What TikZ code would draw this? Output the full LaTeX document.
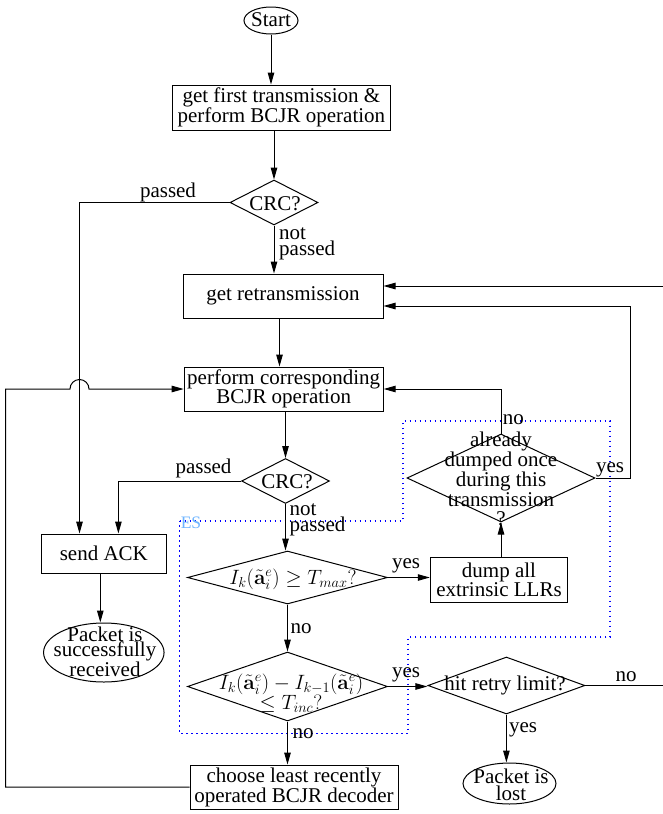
\documentclass[tikz,border=0pt]{standalone}
\usepackage[no-math]{fontspec}
\setmainfont{Liberation Serif}
\usetikzlibrary{arrows.meta,shapes.geometric,calc}
\definecolor{esblue}{RGB}{110,180,255}
\begin{document}
\begin{tikzpicture}[x=1pt,y=-1pt,
  every node/.style={font=\fontsize{21}{19}\selectfont},
  base/.style={draw, line width=1pt, inner sep=0pt},
  boxnode/.style={base, rectangle, align=center},
  dianode/.style={base, diamond},
  ellnode/.style={base, ellipse},
  txt/.style={inner sep=0pt, align=center},
  lbl/.style={inner sep=0pt},
  conn/.style={line width=1pt, -{Triangle[length=12pt,width=6.5pt]}},
  esline/.style={blue, line width=1.4pt, dash pattern=on 1.4pt off 3.6pt}]
\useasboundingbox (0,0) rectangle (663,814);
\clip (0,0) rectangle (663,814);

% ES region
\draw[esline] (179.7,521) -- (403,521) -- (403,421) -- (610,421) -- (610,637)
  -- (408,637) -- (408,733.5) -- (179.7,733.5) -- cycle;
\node[lbl, text=esblue, font=\fontsize{17.5}{17}\selectfont] (es) at (191,523) {ES};

% shapes
\node[ellnode, minimum width=54, minimum height=27] (start) at (271,20.5) {};
\node[txt] (startT) at (271,19.5) {Start};
\node[boxnode, minimum width=218, minimum height=45] (box1) at (281.4,107.5)
  {get first transmission \&\\perform BCJR operation};
\node[dianode, minimum width=88, minimum height=45] (crc1) at (274,202.5) {};
\node[txt] (crc1T) at (275,204) {CRC?};
\node[boxnode, minimum width=200, minimum height=44] (box2) at (283,296) {get retransmission};
\node[boxnode, minimum width=199, minimum height=44, font=\fontsize{21}{18}\selectfont] (box3) at (283.7,389)
  {perform corresponding\\BCJR operation};
\node[dianode, minimum width=88, minimum height=45] (crc2) at (285.5,481) {};
\node[txt] (crc2T) at (287,482) {CRC?};
\node[boxnode, minimum width=125, minimum height=39] (ack) at (103.8,553.5) {send ACK};
\node[ellnode, minimum width=120.5, minimum height=59] (recv) at (103.8,652.5) {};
\node[txt, font=\fontsize{21}{15.5}\selectfont] (recvT) at (105,652) {Packet is\\successfully\\received};
\node[dianode, minimum width=200, minimum height=53] (d3) at (287.5,577.5) {};
\node[txt] (d3T) at (293,579) {$I_k(\tilde{\mathbf{a}}_i^e)\geq T_{max}?$};
\node[boxnode, minimum width=137.5, minimum height=45, font=\fontsize{21}{17}\selectfont] (dump) at (499,579.5)
  {dump all\\extrinsic LLRs};
\node[dianode, minimum width=188, minimum height=88] (already) at (501,478) {};
\node[txt, font=\fontsize{21}{13.5}\selectfont] (alreadyT) at (501,479)
  {already\\dumped once\\during this\\transmission\\[4.5pt]?};
\node[dianode, minimum width=200, minimum height=69] (d4) at (287.5,686.5) {};
\node[txt, font=\fontsize{21}{20}\selectfont] (d4T) at (291,693)
  {$I_k(\tilde{\mathbf{a}}_i^e)-I_{k-1}(\tilde{\mathbf{a}}_i^e)$\\$\leq T_{inc}?$};
\node[dianode, minimum width=157, minimum height=57] (hit) at (506.4,685.5) {};
\node[txt] (hitT) at (505,685.5) {hit retry limit?};
\node[ellnode, minimum width=93, minimum height=41] (lost) at (509.5,783.5) {};
\node[txt, font=\fontsize{21}{17}\selectfont] (lostT) at (511,785) {Packet is\\lost};
\node[boxnode, minimum width=208, minimum height=44, font=\fontsize{21}{20}\selectfont] (choose) at (294,787)
  {choose least recently\\operated BCJR decoder};

% helper coordinates
\coordinate (ackA) at (79.5,0);
\coordinate (ackB) at (118.4,0);
\coordinate (offr) at (700,0);
\coordinate (loopx) at (5.5,0);
\coordinate (bumpL) at ($(ackA |- box3.west)+(-9.5,0)$);

% connectors
\draw[conn] (start.south) -- (start.south |- box1.north);
\draw[conn] (crc1.north |- box1.south) -- (crc1.north);
\draw[conn] (crc1.west) -| (ackA |- ack.north);
\draw[conn] (crc1.south) -- (crc1.south |- box2.north);
\draw[conn] ([xshift=-3.5pt]box2.south) -- ([xshift=-3.5pt]box2.south |- box3.north);
\draw[conn] (crc2.north |- box3.south) -- (crc2.north);
\draw[conn] (crc2.west) -| (ackB |- ack.north);
\draw[conn] (crc2.south) -- (crc2.south |- d3.north);
\draw[conn] (d3.east) -- (d3.east -| dump.west);
\draw[conn] (already.south |- dump.north) -- (already.south);
\draw[conn] (already.north) |- (box3.east);
\draw[conn] (already.east) -- ++(35,0) |- ([yshift=-10pt]box2.east);
\draw[conn] (hit.east) -- (hit.east -| offr) |- ([yshift=10pt]box2.east);
\draw[conn] (d3.south) -- (d4.north);
\draw[conn] (d4.east) -- (d4.east -| hit.west);
\draw[conn] (hit.south) -- (hit.south |- lost.north);
\draw[conn] (d4.south) -- (d4.south |- choose.north);
\draw[conn] (choose.west) -- (choose.west -| loopx) -- (loopx |- box3.west) -- (bumpL)
  arc[start angle=180, end angle=0, radius=9.5pt] -- (box3.west);
\draw[conn] ([xshift=-3.5pt]ack.south) -- ([xshift=-3.5pt]ack.south |- recv.north);

% labels
\node[lbl] (l1) at (168,192.5) {passed};
\node[lbl, anchor=west, align=left, font=\fontsize{21}{13}\selectfont] (l2) at (279,243.5) {not\\passed};
\node[lbl] (l3) at (203.5,468.5) {passed};
\node[lbl, anchor=west, align=left, font=\fontsize{21}{13}\selectfont] (l4) at (289.3,519.5) {not\\passed};
\node[lbl] (l5) at (513.3,420) {no};
\node[lbl] (l6) at (610,470) {yes};
\node[lbl] (l7) at (406,566) {yes};
\node[lbl] (l8) at (301,629) {no};
\node[lbl] (l9) at (406,674.5) {yes};
\node[lbl] (l10) at (626,677) {no};
\node[lbl] (l11) at (523,730) {yes};
\node[lbl] (l12) at (303,733.5) {no};
\end{tikzpicture}
\end{document}
